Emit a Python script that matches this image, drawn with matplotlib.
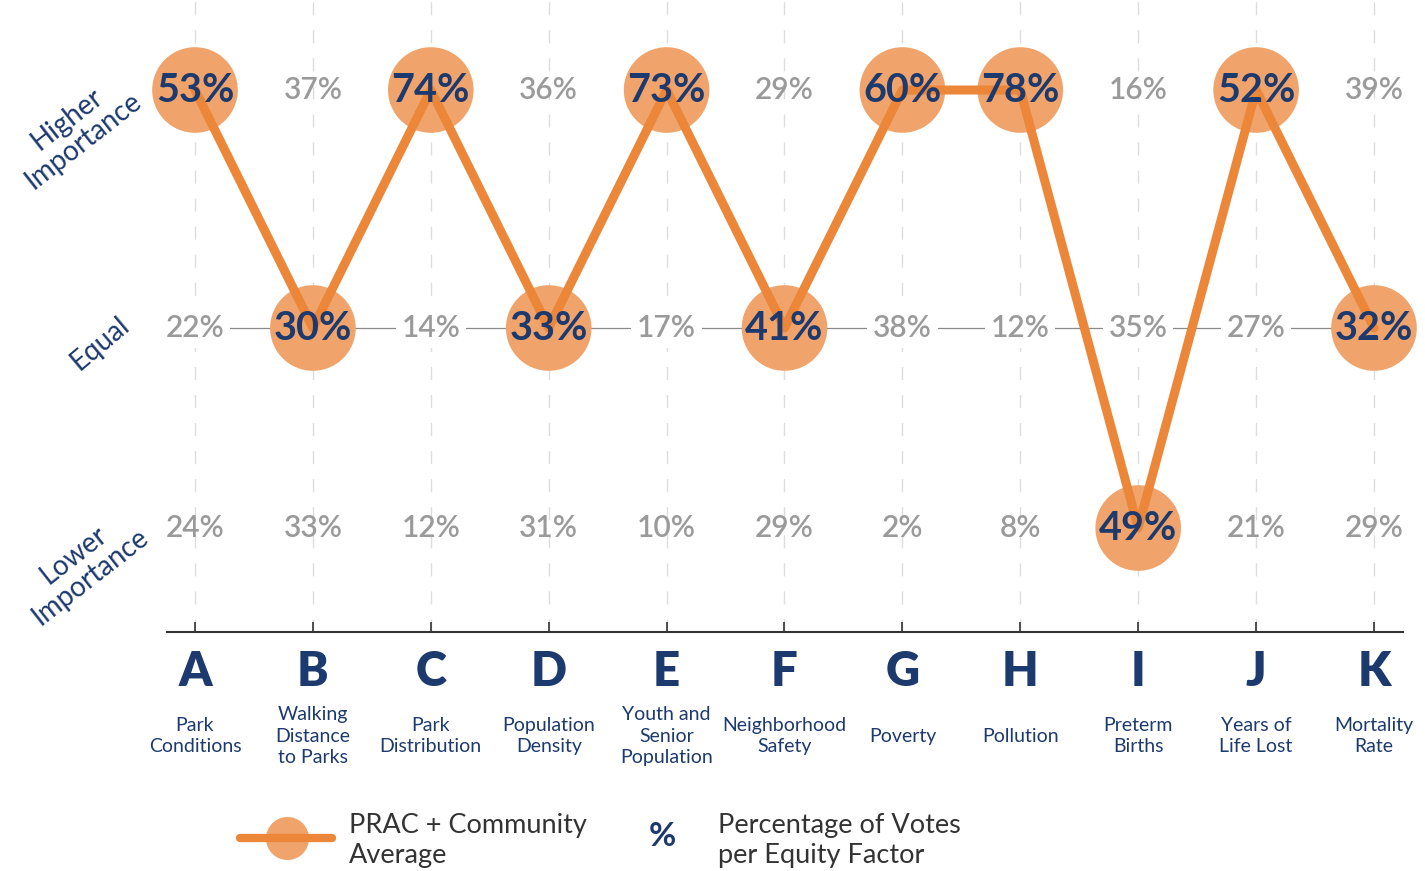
import matplotlib.pyplot as plt
from matplotlib.lines import Line2D

plt.rcParams['font.family'] = ['Lato', 'DejaVu Sans']

letters = ['A', 'B', 'C', 'D', 'E', 'F', 'G', 'H', 'I', 'J', 'K']
factors = ['Park\nConditions', 'Walking\nDistance\nto Parks', 'Park\nDistribution',
           'Population\nDensity', 'Youth and\nSenior\nPopulation', 'Neighborhood\nSafety',
           'Poverty', 'Pollution', 'Preterm\nBirths', 'Years of\nLife Lost', 'Mortality\nRate']
higher = [53, 37, 74, 36, 73, 29, 60, 78, 16, 52, 39]
equal = [22, 30, 14, 33, 17, 41, 38, 12, 35, 27, 32]
lower = [24, 33, 12, 31, 10, 29, 2, 8, 49, 21, 29]
average = ['Higher', 'Equal', 'Higher', 'Equal', 'Higher', 'Equal',
           'Higher', 'Higher', 'Lower', 'Higher', 'Equal']

# vertical position of each row
row_y = {'Higher': 2.19, 'Equal': 1.0, 'Lower': 0.0}

navy = '#1d3a6e'
grey = '#9a9a9a'
orange = '#ec8638'
light_orange = '#f0a46c'

fig = plt.figure(figsize=(14.25, 8.71), dpi=100)
ax = fig.add_axes([167 / 1425, 1 - 632 / 871, (1403 - 167) / 1425, 632 / 871])
ax.set_xlim(-0.2375, 10.246)
ax.set_ylim(-0.52, 2.64)

xs = list(range(len(letters)))

# dashed guides
for x in xs:
    ax.axvline(x, color='#dddddd', lw=1, ls=(0, (9.4, 10.8)), zorder=0)
ax.axhline(row_y['Equal'], color='#8a8a8a', lw=0.9, zorder=1)

# grey vote labels
for x in xs:
    for name, vals in (('Higher', higher), ('Equal', equal), ('Lower', lower)):
        if average[x] == name:
            continue
        bbox = None
        if name == 'Equal':
            bbox = dict(facecolor='white', edgecolor='none', pad=4)
        ax.text(x, row_y[name], f'{vals[x]}%', color=grey, fontsize=21.5,
                fontweight='semibold', ha='center', va='center', bbox=bbox, zorder=2)

# average line and circles
avg_y = [row_y[r] for r in average]
avg_val = [{'Higher': higher, 'Equal': equal, 'Lower': lower}[r][i] for i, r in enumerate(average)]
ax.scatter(xs, avg_y, s=3800, color=light_orange, edgecolors='none', zorder=3, clip_on=False)
ax.plot(xs, avg_y, color=orange, lw=6.5, solid_capstyle='round', zorder=4)
for x, y, v in zip(xs, avg_y, avg_val):
    ax.text(x, y, f'{v}%', color=navy, fontsize=28.5, fontweight='bold',
            ha='center', va='center', zorder=5)

# axis
for s in ['top', 'right', 'left']:
    ax.spines[s].set_visible(False)
ax.spines['bottom'].set_color('#333333')
ax.spines['bottom'].set_linewidth(1.5)
ax.set_yticks([])
ax.set_xticks(xs)
ax.set_xticklabels([])
ax.tick_params(axis='x', direction='in', length=7, width=1.2, color='#333333')

tr = ax.get_xaxis_transform()
for x, let, fac in zip(xs, letters, factors):
    ax.text(x, -40 / 632, let, transform=tr, color=navy, fontsize=34,
            fontweight='heavy', ha='center', va='center')
    ax.text(x, -104 / 632, fac, transform=tr, color=navy, fontsize=14,
            ha='center', va='center', linespacing=1.3)

# row labels
fig.text(75 / 1425, 1 - 130 / 871, 'Higher\nImportance', color=navy, fontsize=20,
         rotation=38, ha='center', va='center', rotation_mode='anchor', linespacing=1.05)
fig.text(100 / 1425, 1 - 343 / 871, 'Equal', color=navy, fontsize=20,
         rotation=40, ha='center', va='center', rotation_mode='anchor')
fig.text(82 / 1425, 1 - 566 / 871, 'Lower\nImportance', color=navy, fontsize=20,
         rotation=38, ha='center', va='center', rotation_mode='anchor', linespacing=1.05)

# legend
fig.add_artist(Line2D([287 / 1425], [1 - 838 / 871], marker='o', markersize=31,
                      color=light_orange, markeredgecolor='none', transform=fig.transFigure))
fig.add_artist(Line2D([240 / 1425, 332 / 1425], [1 - 838 / 871] * 2, color=orange, lw=6,
                      solid_capstyle='round', transform=fig.transFigure))
fig.text(349 / 1425, 1 - 840 / 871, 'PRAC + Community\nAverage', color='#333333',
         fontsize=19.5, ha='left', va='center', linespacing=1.25)
fig.text(662 / 1425, 1 - 836 / 871, '%', color=navy, fontsize=24, fontweight='bold',
         ha='center', va='center')
fig.text(718 / 1425, 1 - 840 / 871, 'Percentage of Votes\nper Equity Factor', color='#333333',
         fontsize=19.5, ha='left', va='center', linespacing=1.25)

fig.savefig('out.png', dpi=100, facecolor='white')
